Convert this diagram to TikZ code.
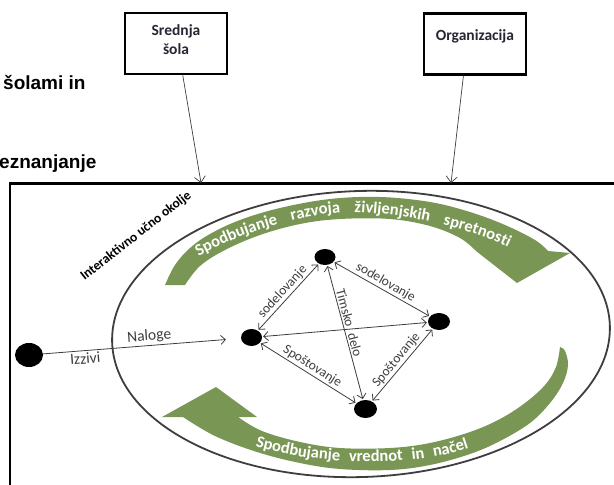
\documentclass[tikz,border=0pt]{standalone}
\usepackage{fontspec}
\setmainfont{Carlito}
\newfontfamily\headfont{Liberation Sans}
\usetikzlibrary{arrows.meta,shapes.geometric,decorations.text}
\definecolor{leaf}{RGB}{122,150,84}
\definecolor{ink}{RGB}{62,62,62}
\definecolor{boxtext}{RGB}{38,38,52}
\newcommand{\widegap}{{\kern 14pt}}
\newcommand{\narrowgap}{{\kern 9pt}}
\begin{document}
\begin{tikzpicture}[x=1pt,y=-1pt,
  heading/.style={anchor=base west, inner sep=0pt, font=\headfont\bfseries\fontsize{19}{19}\selectfont},
  frame/.style={draw=black, line width=2.6pt, minimum width=102pt, minimum height=61pt,
    inner sep=0pt, align=center, text=boxtext, font=\bfseries\fontsize{15.5}{19}\selectfont},
  feed/.style={draw=ink, line width=0.7pt, -{Straight Barb[length=6pt,width=11pt]}},
  dot/.style={ellipse, fill=black, inner sep=0pt},
  link/.style={draw=ink, line width=0.8pt, shorten <=1pt, shorten >=1pt,
    {Straight Barb[length=4.5pt,width=9pt]}-{Straight Barb[length=4.5pt,width=9pt]}},
  tag/.style={font=\fontsize{13.5}{13.5}\selectfont, text=ink, inner sep=1.5pt},
  bigtag/.style={font=\fontsize{15.5}{15.5}\selectfont, text=ink, inner sep=2pt},
  bandtext/.style={decorate, decoration={text along path, text color=white,
    text align=center, text={#1}}}
]
\useasboundingbox (0,0) rectangle (614,485);
\clip (0,0) rectangle (614,485);
\fill[white] (0,0) rectangle (614,485);

% headings on the left
\node[heading] (h1) at (3,89) {šolami in};
\node[heading] (h2) at (-1,168) {eznanjanje};

% source boxes
\node[frame, text depth=7pt] (school) at (176,43.5) {Srednja\\šola};
\node[frame, text depth=18pt] (org) at (475,44) {Organizacija};

% learning environment frame
\draw[line width=2.4pt] (10,183.5) rectangle (660,540);
\coordinate (in1) at (201,183);
\coordinate (in2) at (451,183);
\draw[feed] (school.-78) -- (in1);
\draw[feed] (org.-110) -- (in2);

% surrounding ellipse
\draw[ink, line width=1.8pt, rotate around={2:(361,334)}] (361,334) ellipse [x radius=249, y radius=143];
\node[font=\bfseries\fontsize{13.5}{13.5}\selectfont, rotate=38] (env) at (136,236) {Interaktivno učno okolje};

% upper curved arrow
\fill[leaf] plot[smooth, tension=0.6] coordinates {(165,285) (175,265) (190,248) (210,234) (240,220) (280,208) (330,199) (380,197) (430,202) (470,212) (505,225) (535,240) (548,251)}
  -- (570,253) -- (517,283) -- (476,251)
  -- plot[smooth, tension=0.6] coordinates {(476,251) (460,238) (430,226) (390,219) (340,219) (300,224) (260,235) (225,250) (200,266) (185,285)} -- cycle;
\path[bandtext={|\bfseries\fontsize{16.5}{16.5}\selectfont|Spodbujanje\widegap razvoja\widegap življenjskih\widegap spretnosti}]
  (195,258) .. controls (258,223) and (330,208) .. (370,213) .. controls (420,217) and (472,229) .. (512,249);

% lower curved arrow
\fill[leaf] (162,417) -- (216,387) -- (257,417) -- (238,417)
  -- plot[smooth, tension=0.6] coordinates {(238,417) (262,431) (300,442) (340,448) (390,448) (430,443) (470,432) (500,419) (525,403) (545,385) (556,367) (560,347)}
  -- plot[smooth, tension=0.6] coordinates {(560,347) (565,351) (568,365) (563,383) (550,403) (530,423) (500,441) (470,454) (430,465) (390,470) (340,469) (300,463) (257,452) (215,436) (183,417)} -- cycle;
\path[bandtext={|\bfseries\fontsize{16.5}{16.5}\selectfont|Spodbujanje\narrowgap vrednot\narrowgap in\narrowgap načel}]
  (250,445) .. controls (320,467) and (420,467) .. (474,446);

% participants
\node[dot, minimum width=28pt, minimum height=24pt] (far) at (29,355) {};
\node[dot, minimum width=21pt, minimum height=16pt] (top) at (325,257) {};
\node[dot, minimum width=21pt, minimum height=17pt] (left) at (251.5,337.5) {};
\node[dot, minimum width=22pt, minimum height=17pt] (right) at (439,321.5) {};
\node[dot, minimum width=23pt, minimum height=18pt] (bottom) at (365.5,409) {};

% relations
\draw[feed, line width=0.8pt, -{Straight Barb[length=4.5pt,width=9pt]}, shorten >=15pt] (far) --
  node[bigtag, pos=0.54, sloped, above] {Naloge}
  node[bigtag, pos=0.21, sloped, below] {Izzivi} (left);
\draw[link] (left) -- node[tag, sloped, above] {sodelovanje} (top);
\draw[link] (top) -- node[tag, sloped, above] {sodelovanje} (right);
\draw[link] (left) -- (right);
\draw[link] (top) -- node[tag, pos=0.44, sloped, above] {Timsko\hspace{7pt}delo} (bottom);
\draw[link] (left) -- node[tag, sloped, above] {Spoštovanje} (bottom);
\draw[link] (bottom) -- node[tag, sloped, above] {Spoštovanje} (right);
\end{tikzpicture}
\end{document}
